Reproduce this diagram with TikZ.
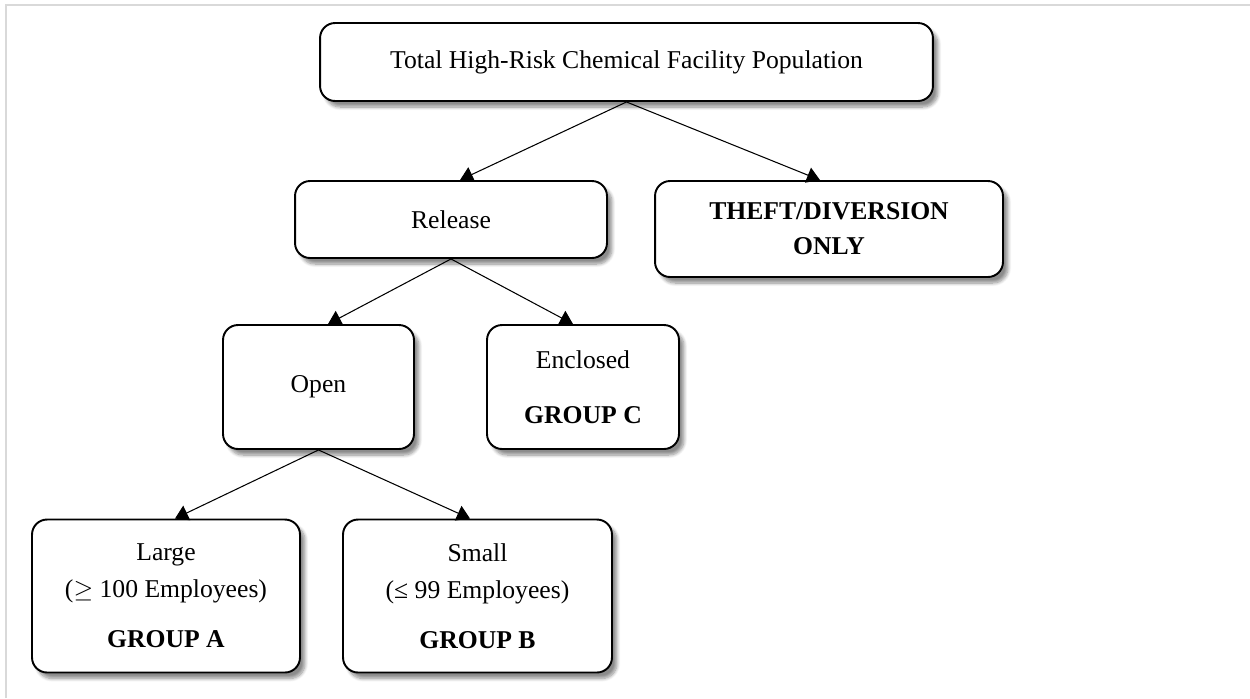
\documentclass[tikz,border=0pt]{standalone}
\usepackage{fontspec}
\setmainfont{Liberation Serif}
\usepackage{tikz}
\usetikzlibrary{arrows.meta,shadows.blur}

\begin{document}
\begin{tikzpicture}[x=0.02cm, y=-0.02cm]
    \tikzstyle{group} = [rectangle, rounded corners=0.3cm, draw=black, line width=1.1pt,
        fill=white, align=center, inner sep=0pt,
        font=\fontsize{14.6}{21}\selectfont,
        blur shadow={shadow xshift=0.1cm, shadow yshift=-0.12cm, shadow blur steps=8, shadow opacity=45}]
    \tikzstyle{link} = [-{Triangle[width=0.32cm, length=0.26cm]}, line width=0.6pt]
    \useasboundingbox (0,0) rectangle (1250,698);
    % frame
    \draw [line width=1.6pt, gray!30] (6,698) -- (6,5) -- (1250,5);

    \node (total) [group, minimum width=12.26cm, minimum height=1.56cm] at (626.5,62)
        {Total High-Risk Chemical Facility Population};
    \node (release) [group, minimum width=6.24cm, minimum height=1.54cm] at (451,219.5) {Release};
    \node (theft) [group, minimum width=6.96cm, minimum height=1.92cm] at (829,229)
        {\textbf{THEFT/DIVERSION}\\[-0.04cm]\textbf{ONLY}};
    \node (open) [group, minimum width=3.82cm, minimum height=2.48cm] at (318.5,387) {Open};
    \node (enclosed) [group, minimum width=3.84cm, minimum height=2.48cm] at (583,387)
        {Enclosed\\[0.36cm]\textbf{GROUP C}};
    \node (large) [group, minimum width=5.36cm, minimum height=3.06cm] at (166,596)
        {Large\\($\geq$ 100 Employees)\\[0.26cm]\textbf{GROUP A}};
    \node (small) [group, minimum width=5.38cm, minimum height=3.06cm] at (477.5,596)
        {Small\\(≤ 99 Employees)\\[0.26cm]\textbf{GROUP B}};

    \draw [link] (total.south) -- ([xshift=0.18cm]release.north);
    \draw [link] (total.south) -- ([xshift=-0.18cm]theft.north);
    \draw [link] (release.south) -- ([xshift=0.19cm]open.north);
    \draw [link] (release.south) -- ([xshift=-0.2cm]enclosed.north);
    \draw [link] (open.south) -- ([xshift=0.18cm]large.north);
    \draw [link] (open.south) -- ([xshift=-0.15cm]small.north);
\end{tikzpicture}
\end{document}
